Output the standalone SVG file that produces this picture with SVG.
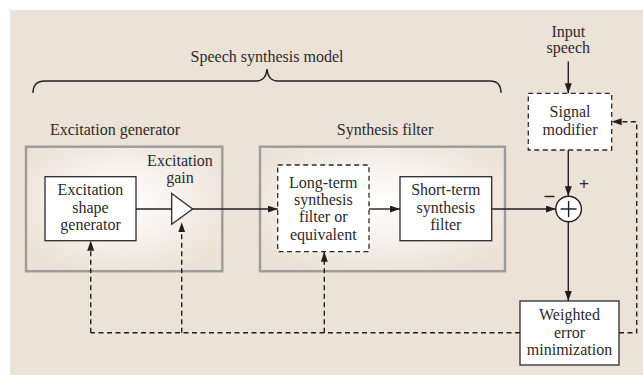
<svg xmlns="http://www.w3.org/2000/svg" width="643" height="375" viewBox="0 0 643 375">
  <style>
    text { font-family: "Liberation Serif", "Times New Roman", serif; font-size: 16px; fill: #2b2b2b; text-anchor: middle; }
    .box { fill: #ffffff; stroke: #2b2b2b; stroke-width: 1.3; }
    .dbox { fill: #ffffff; stroke: #2b2b2b; stroke-width: 1.3; stroke-dasharray: 5 3.5; }
    .group { fill: url(#glow); stroke: #9c9c9c; stroke-width: 2.4; }
    .line { fill: none; stroke: #231f20; stroke-width: 1.4; }
    .dash { fill: none; stroke: #231f20; stroke-width: 1.4; stroke-dasharray: 5 3.5; }
  </style>
  <defs>
    <radialGradient id="glow" cx="50%" cy="45%" r="62%">
      <stop offset="0" stop-color="#ffffff"/>
      <stop offset="0.45" stop-color="#f7f2ed"/>
      <stop offset="1" stop-color="#ebe1d6"/>
    </radialGradient>
    <marker id="arrow" markerUnits="userSpaceOnUse" markerWidth="10" markerHeight="8" refX="10" refY="3.5" orient="auto">
      <path d="M0,0 L10,3.5 L0,7 z" fill="#231f20" stroke="none"/>
    </marker>
  </defs>

  <!-- background panel -->
  <rect x="10" y="10" width="633" height="365" fill="#ece2d7"/>

  <!-- model brace and title -->
  <g id="model-label">
    <text x="267" y="61.5">Speech synthesis model</text>
    <path class="line" stroke-width="1.2" d="M33,93 Q33,81 45,81 L256,81 Q266,81 267,69 Q268,81 278,81 L490,81 Q501,81 501,93"/>
  </g>

  <!-- excitation generator -->
  <g id="excitation-generator">
    <text x="115" y="134.5">Excitation generator</text>
    <rect class="group" x="26" y="146.7" width="196.3" height="124.5"/>
  </g>

  <!-- synthesis filter -->
  <g id="synthesis-filter">
    <text x="385" y="134.5">Synthesis filter</text>
    <rect class="group" x="260" y="146.7" width="245" height="124.5"/>
  </g>

  <g id="excitation-shape">
    <rect class="box" x="45" y="176.7" width="91" height="64"/>
    <text x="90.5" y="195">Excitation</text>
    <text x="90.5" y="212.5">shape</text>
    <text x="90.5" y="230">generator</text>
  </g>

  <g id="excitation-gain">
    <text x="180" y="165.5">Excitation</text>
    <text x="180" y="183.3">gain</text>
    <polygon points="171.7,193.5 171.7,224.3 192.7,209" fill="#ffffff" stroke="#2b2b2b" stroke-width="1.3"/>
  </g>

  <g id="long-term">
    <rect class="dbox" x="277.7" y="165" width="91.3" height="86.7"/>
    <text x="323.3" y="187.5">Long-term</text>
    <text x="323.3" y="205">synthesis</text>
    <text x="323.3" y="222.3">filter or</text>
    <text x="323.3" y="239.5">equivalent</text>
  </g>

  <g id="short-term">
    <rect class="box" x="400" y="176.7" width="91.7" height="64"/>
    <text x="445.8" y="195">Short-term</text>
    <text x="445.8" y="212.5">synthesis</text>
    <text x="445.8" y="230">filter</text>
  </g>

  <g id="input-speech">
    <text x="568.3" y="36.7">Input</text>
    <text x="568.3" y="53.3">speech</text>
  </g>

  <g id="signal-modifier">
    <rect class="dbox" x="528.3" y="93.3" width="83.4" height="56.7"/>
    <text x="570" y="117.3">Signal</text>
    <text x="570" y="135">modifier</text>
  </g>

  <g id="summer">
    <circle cx="568.6" cy="209" r="12.8" fill="#ffffff" stroke="#231f20" stroke-width="1.4"/>
    <path class="line" d="M560.6,209 H576.6 M568.6,201 V217"/>
    <text x="584" y="189" style="font-family: 'Liberation Sans', Arial, sans-serif; font-size: 17px;">+</text>
    <path class="line" stroke-width="1.3" d="M544.5,196.5 H554.5"/>
  </g>

  <g id="weighted-error">
    <rect class="box" x="520" y="301" width="99" height="64"/>
    <text x="569.5" y="320">Weighted</text>
    <text x="569.5" y="337.5">error</text>
    <text x="569.5" y="355">minimization</text>
  </g>

  <!-- signal paths and feedback -->
  <g id="connectors">
    <path class="line" d="M136,209 H171.7"/>
    <path class="line" marker-end="url(#arrow)" d="M192.7,209 H277.7"/>
    <path class="line" marker-end="url(#arrow)" d="M369,209 H400"/>
    <path class="line" marker-end="url(#arrow)" d="M491.7,209 H555.8"/>
    <path class="line" marker-end="url(#arrow)" d="M568.3,61.5 V93.3"/>
    <path class="line" marker-end="url(#arrow)" d="M568.3,150 V196.2"/>
    <path class="line" marker-end="url(#arrow)" d="M568.3,221.8 V301"/>

    <path class="dash" d="M520,332.7 H90.7"/>
    <path class="dash" marker-end="url(#arrow)" d="M90.7,332.7 V240.7"/>
    <path class="dash" marker-end="url(#arrow)" d="M181.7,332.7 V222.3"/>
    <path class="dash" marker-end="url(#arrow)" d="M324.3,332.7 V251.7"/>
    <path class="dash" marker-end="url(#arrow)" d="M619,332.7 H636.7 V121.7 H611.7"/>
  </g>
</svg>
